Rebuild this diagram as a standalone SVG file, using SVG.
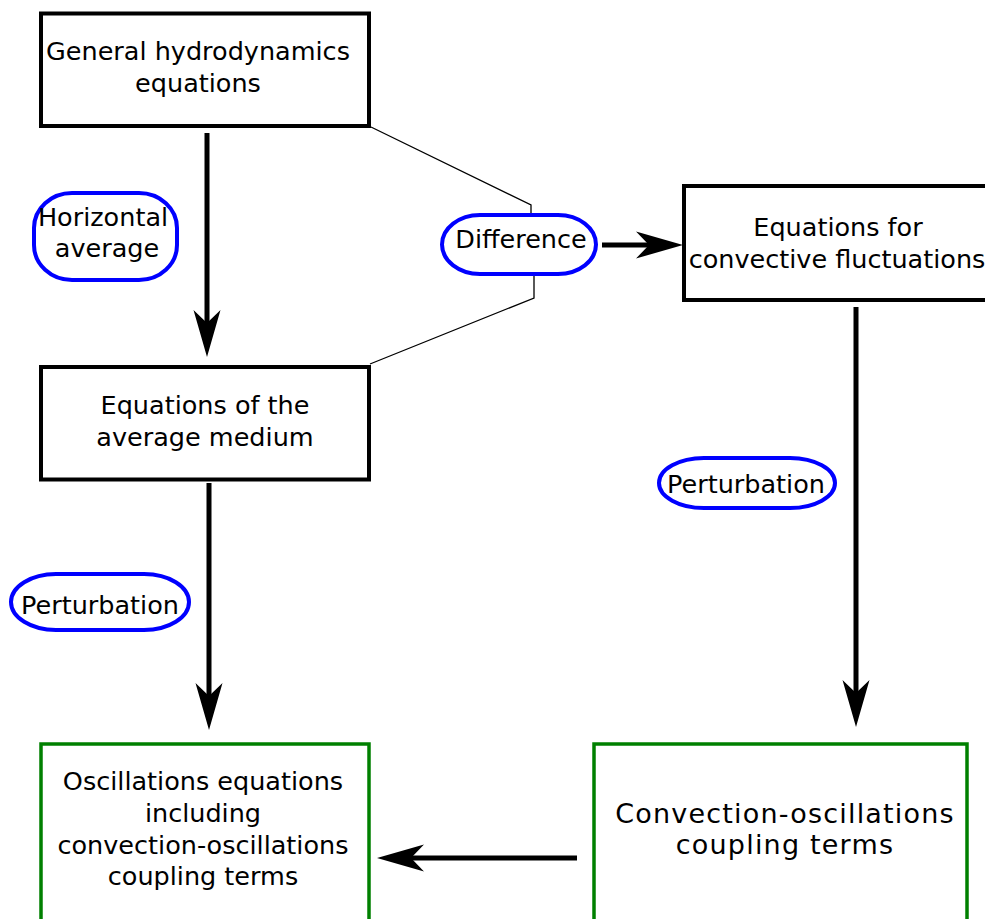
<svg xmlns="http://www.w3.org/2000/svg" width="985" height="919" viewBox="0 0 985 919">
<defs>
<style>
.box{fill:#fff;stroke:#000;stroke-width:4}
.gbox{fill:#fff;stroke:#008000;stroke-width:3.5}
.pill{fill:#fff;stroke:#0000ff;stroke-width:4}
.t{font-family:"DejaVu Sans","Liberation Sans",sans-serif;font-size:25.5px;fill:#000;text-anchor:middle}
.big{font-size:27px;letter-spacing:1.2px}
.arr{fill:none;stroke:#000;stroke-width:5;marker-end:url(#ah)}
.thin{fill:none;stroke:#000;stroke-width:1.3}
</style>
<marker id="ah" markerUnits="userSpaceOnUse" orient="auto" refX="0" refY="0" markerWidth="60" markerHeight="40" overflow="visible">
<path d="M34,0 L-13,-13.5 L0,0 L-13,13.5 Z" fill="#000"/>
</marker>
</defs>
<g id="connectors">
<path class="thin" d="M371,127 L531,205 L531,215"/>
<path class="thin" d="M534,275 L534,298 L370,364"/>
<path class="arr" d="M207,133 L207,323"/>
<path class="arr" d="M602,245 L649,245"/>
<path class="arr" d="M209,483 L209,696"/>
<path class="arr" d="M856,307 L856,693"/>
<path class="arr" d="M577,858 L411,858"/>
</g>
<g id="general">
<rect class="box" x="41" y="13.5" width="328" height="112.5"/>
<text class="t" x="198" y="60">General hydrodynamics</text>
<text class="t" x="198" y="92">equations</text>
</g>
<g id="horizontal-average">
<rect class="pill" x="34" y="193" width="143" height="87" rx="38" ry="35"/>
<text class="t" x="103" y="226">Horizontal</text>
<text class="t" x="107" y="257">average</text>
</g>
<g id="difference">
<rect class="pill" x="442" y="215" width="154" height="59" rx="38" ry="29.5"/>
<text class="t" x="521" y="248">Difference</text>
</g>
<g id="fluctuations">
<rect class="box" x="684" y="186" width="330" height="114"/>
<text class="t" x="838" y="236">Equations for</text>
<text class="t" x="837" y="268">convective fluctuations</text>
</g>
<g id="average-medium">
<rect class="box" x="41" y="367" width="328" height="112.5"/>
<text class="t" x="205" y="414">Equations of the</text>
<text class="t" x="205" y="446">average medium</text>
</g>
<g id="perturbation-right">
<rect class="pill" x="659" y="458" width="176" height="50" rx="45" ry="25"/>
<text class="t" x="746" y="493">Perturbation</text>
</g>
<g id="perturbation-left">
<rect class="pill" x="11" y="574" width="178" height="56" rx="45" ry="28"/>
<text class="t" x="100" y="614">Perturbation</text>
</g>
<g id="oscillations">
<rect class="gbox" x="41" y="744" width="328" height="177"/>
<text class="t" x="203" y="790">Oscillations equations</text>
<text class="t" x="203" y="822">including</text>
<text class="t" x="203" y="854">convection-oscillations</text>
<text class="t" x="203" y="885">coupling terms</text>
</g>
<g id="coupling">
<rect class="gbox" x="594" y="744" width="373" height="177"/>
<text class="t big" x="785" y="823">Convection-oscillations</text>
<text class="t big" x="785" y="854">coupling terms</text>
</g>
</svg>
